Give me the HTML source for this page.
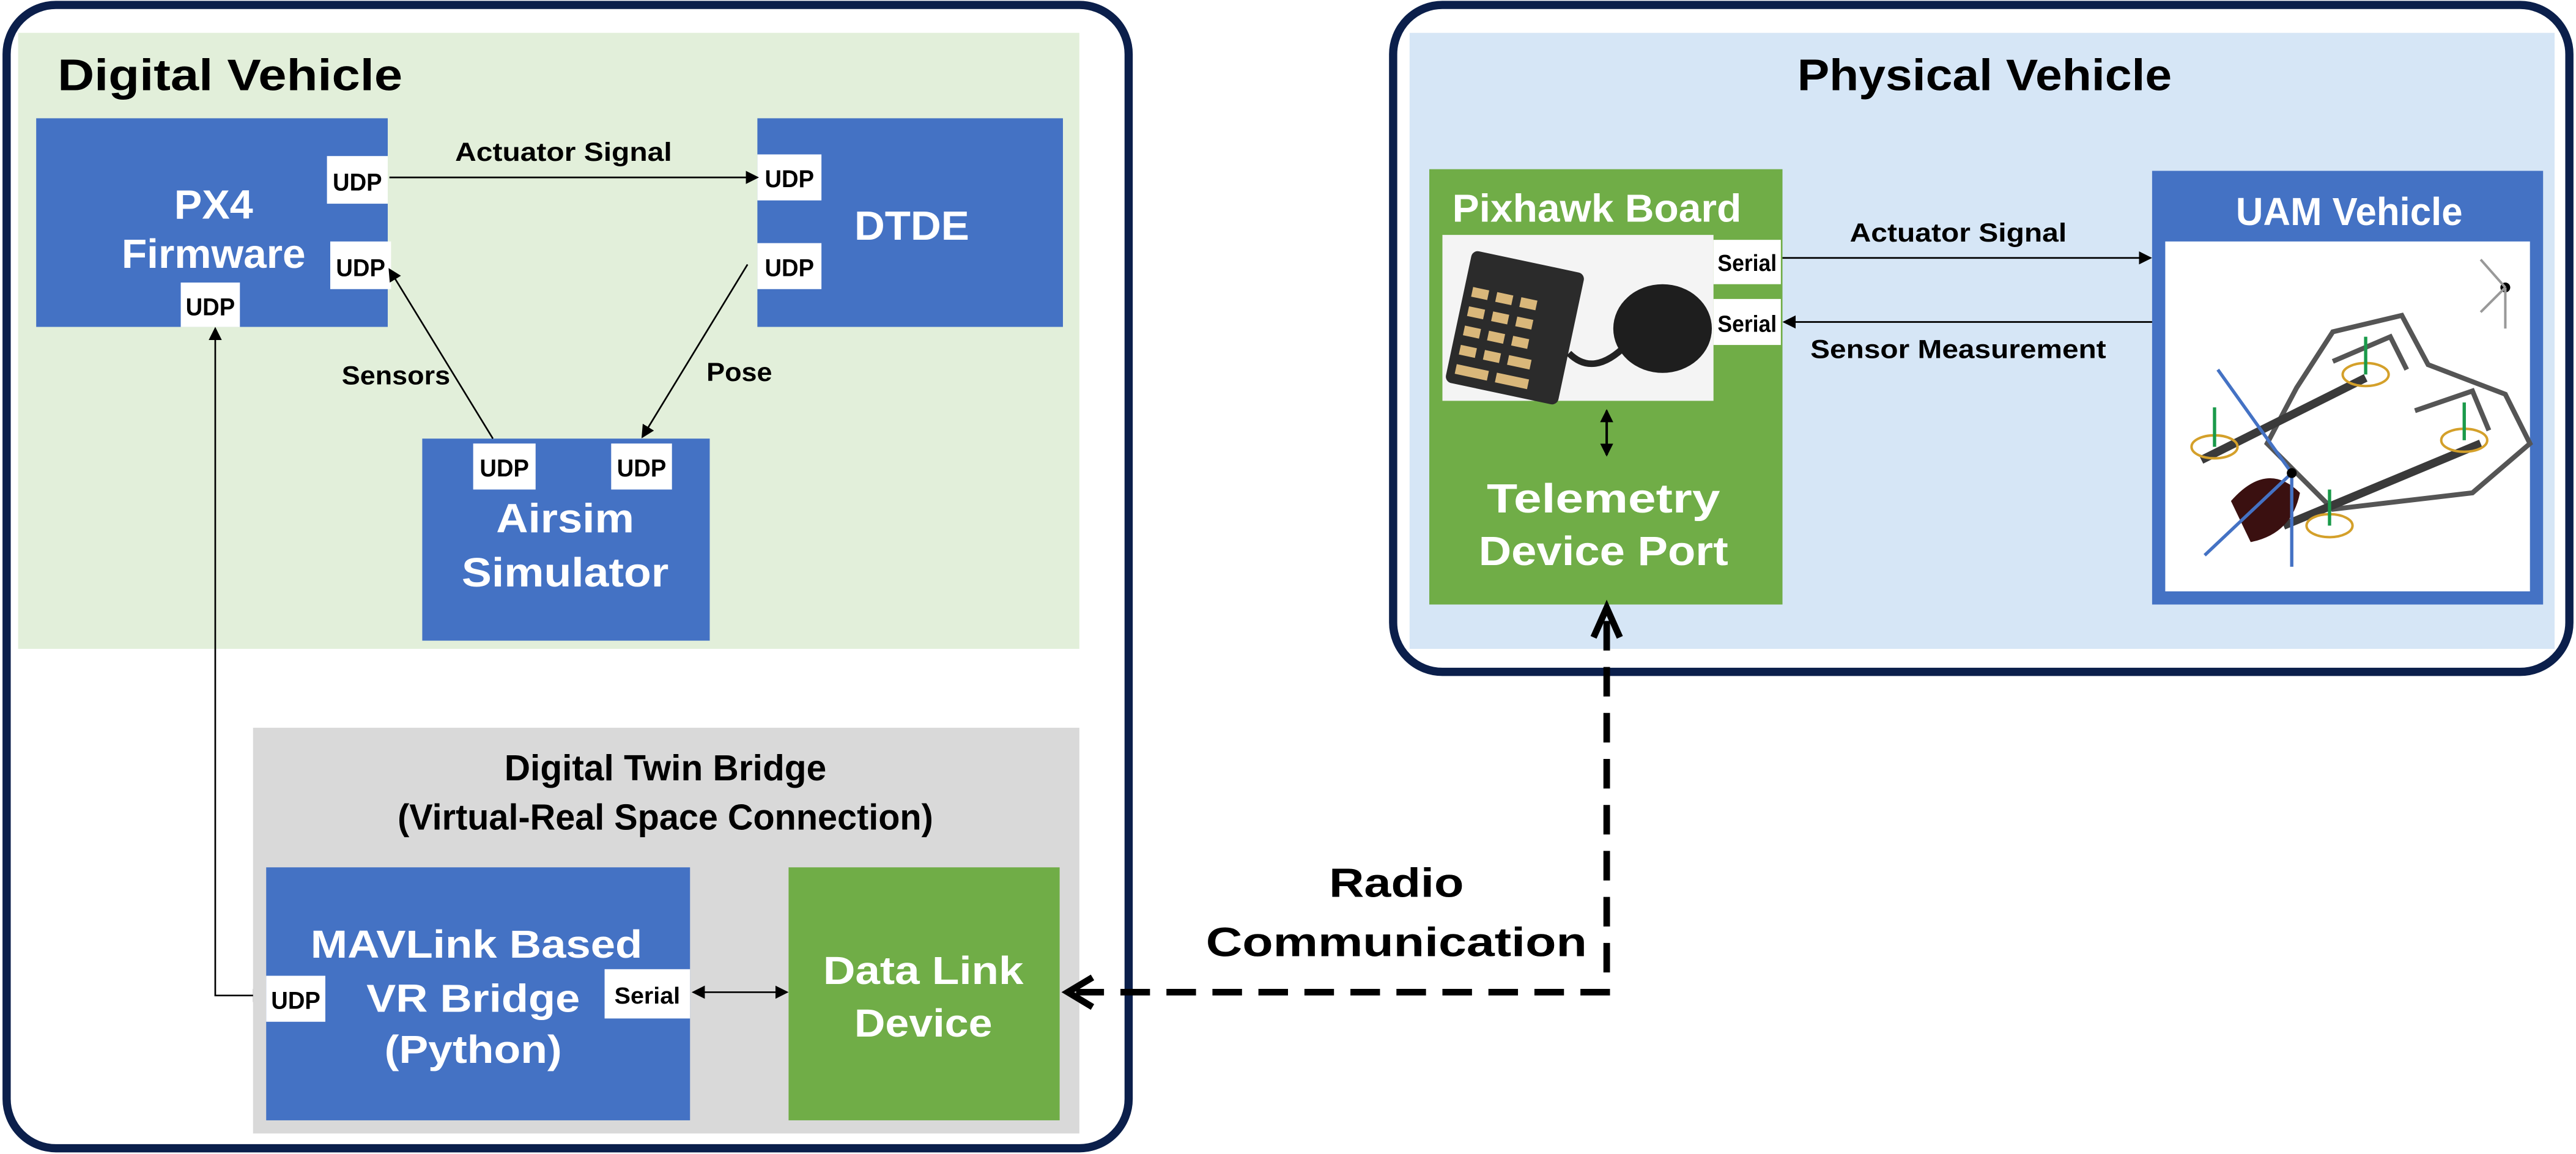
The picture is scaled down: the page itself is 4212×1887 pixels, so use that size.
<!DOCTYPE html>
<html><head><meta charset="utf-8"><style>
html,body{margin:0;padding:0;background:#fff;}
svg{display:block;}
text{font-family:"Liberation Sans",sans-serif;font-weight:bold;}
</style></head><body>
<svg width="4212" height="1887" viewBox="0 0 1568 702.5" xmlns="http://www.w3.org/2000/svg">
<defs>
<marker id="a" markerWidth="8" markerHeight="8" refX="7" refY="4" orient="auto" markerUnits="userSpaceOnUse"><path d="M0,0 L8,4 L0,8 z" fill="#000"/></marker>
<marker id="as" markerWidth="8" markerHeight="8" refX="1" refY="4" orient="auto" markerUnits="userSpaceOnUse"><path d="M8,0 L0,4 L8,8 z" fill="#000"/></marker>
</defs>
<!-- Left outer -->
<rect x="4" y="3" width="683" height="696" rx="30" fill="#fff" stroke="#0b1f4b" stroke-width="5"/>
<rect x="11" y="20" width="646" height="375" fill="#e2efda"/>
<text x="35" y="55" font-size="27" fill="#000" textLength="210" lengthAdjust="spacingAndGlyphs">Digital Vehicle</text>
<!-- PX4 -->
<rect x="22" y="72" width="214" height="127" fill="#4472c4"/>
<text x="130" y="133" font-size="25" fill="#fff" text-anchor="middle" textLength="48" lengthAdjust="spacingAndGlyphs">PX4</text>
<text x="130" y="163" font-size="25" fill="#fff" text-anchor="middle" textLength="112" lengthAdjust="spacingAndGlyphs">Firmware</text>
<rect x="199" y="95" width="37" height="29" fill="#fff"/><text x="217.5" y="116" font-size="15" text-anchor="middle" textLength="30" lengthAdjust="spacingAndGlyphs">UDP</text>
<rect x="201" y="147" width="37" height="29" fill="#fff"/><text x="219.5" y="168" font-size="15" text-anchor="middle" textLength="30" lengthAdjust="spacingAndGlyphs">UDP</text>
<rect x="110" y="172" width="36" height="27" fill="#fff"/><text x="128" y="192" font-size="15" text-anchor="middle" textLength="30" lengthAdjust="spacingAndGlyphs">UDP</text>
<!-- DTDE -->
<rect x="461" y="72" width="186" height="127" fill="#4472c4"/>
<text x="555" y="146" font-size="25" fill="#fff" text-anchor="middle" textLength="70" lengthAdjust="spacingAndGlyphs">DTDE</text>
<rect x="461" y="94" width="39" height="28" fill="#fff"/><text x="480.5" y="114" font-size="15" text-anchor="middle" textLength="30" lengthAdjust="spacingAndGlyphs">UDP</text>
<rect x="461" y="148" width="39" height="28" fill="#fff"/><text x="480.5" y="168" font-size="15" text-anchor="middle" textLength="30" lengthAdjust="spacingAndGlyphs">UDP</text>
<line x1="237" y1="108" x2="461" y2="108" stroke="#000" stroke-width="1" marker-end="url(#a)"/>
<text x="343" y="98" font-size="16" text-anchor="middle" textLength="132" lengthAdjust="spacingAndGlyphs">Actuator Signal</text>
<!-- Airsim -->
<rect x="257" y="267" width="175" height="123" fill="#4472c4"/>
<rect x="288" y="270" width="38" height="28" fill="#fff"/><text x="307" y="290" font-size="15" text-anchor="middle" textLength="30" lengthAdjust="spacingAndGlyphs">UDP</text>
<rect x="372" y="270" width="37" height="28" fill="#fff"/><text x="390.5" y="290" font-size="15" text-anchor="middle" textLength="30" lengthAdjust="spacingAndGlyphs">UDP</text>
<text x="344" y="324" font-size="25" fill="#fff" text-anchor="middle" textLength="84" lengthAdjust="spacingAndGlyphs">Airsim</text>
<text x="344" y="357" font-size="25" fill="#fff" text-anchor="middle" textLength="126" lengthAdjust="spacingAndGlyphs">Simulator</text>
<line x1="300" y1="267" x2="237" y2="164" stroke="#000" stroke-width="1" marker-end="url(#a)"/>
<text x="241" y="234" font-size="16" text-anchor="middle" textLength="66" lengthAdjust="spacingAndGlyphs">Sensors</text>
<line x1="455" y1="161" x2="391" y2="266" stroke="#000" stroke-width="1" marker-end="url(#a)"/>
<text x="450" y="232" font-size="16" text-anchor="middle" textLength="40" lengthAdjust="spacingAndGlyphs">Pose</text>
<!-- vertical PX4 to bridge -->
<polyline points="131,200 131,606 161,606" fill="none" stroke="#000" stroke-width="1" marker-start="url(#as)" marker-end="url(#a)"/>
<!-- Bridge -->
<rect x="154" y="443" width="503" height="247" fill="#d9d9d9"/>
<text x="405" y="475" font-size="22" text-anchor="middle" textLength="196" lengthAdjust="spacingAndGlyphs">Digital Twin Bridge</text>
<text x="405" y="505" font-size="22" text-anchor="middle" textLength="326" lengthAdjust="spacingAndGlyphs">(Virtual-Real Space Connection)</text>
<rect x="162" y="528" width="258" height="154" fill="#4472c4"/>
<text x="290" y="583" font-size="24" fill="#fff" text-anchor="middle" textLength="202" lengthAdjust="spacingAndGlyphs">MAVLink Based</text>
<text x="288" y="616" font-size="24" fill="#fff" text-anchor="middle" textLength="130" lengthAdjust="spacingAndGlyphs">VR Bridge</text>
<text x="288" y="647" font-size="24" fill="#fff" text-anchor="middle" textLength="108" lengthAdjust="spacingAndGlyphs">(Python)</text>
<rect x="162" y="594" width="36" height="28" fill="#fff"/><text x="180" y="614" font-size="15" text-anchor="middle" textLength="30" lengthAdjust="spacingAndGlyphs">UDP</text>
<rect x="368" y="590" width="52" height="30" fill="#fff"/><text x="394" y="611" font-size="14" text-anchor="middle" textLength="40" lengthAdjust="spacingAndGlyphs">Serial</text>
<rect x="480" y="528" width="165" height="154" fill="#70ad47"/>
<text x="562" y="599" font-size="24" fill="#fff" text-anchor="middle" textLength="122" lengthAdjust="spacingAndGlyphs">Data Link</text>
<text x="562" y="631" font-size="24" fill="#fff" text-anchor="middle" textLength="84" lengthAdjust="spacingAndGlyphs">Device</text>
<line x1="422" y1="604" x2="479" y2="604" stroke="#000" stroke-width="1" marker-start="url(#as)" marker-end="url(#a)"/>
<!-- Right outer -->
<rect x="848" y="3" width="716" height="406" rx="30" fill="#fff" stroke="#0b1f4b" stroke-width="5"/>
<rect x="858" y="20" width="697" height="375" fill="#d6e6f6"/>
<text x="1208" y="55" font-size="27" text-anchor="middle" textLength="228" lengthAdjust="spacingAndGlyphs">Physical Vehicle</text>
<!-- Pixhawk -->
<rect x="870" y="103" width="215" height="265" fill="#70ad47"/>
<text x="972" y="135" font-size="24" fill="#fff" text-anchor="middle" textLength="176" lengthAdjust="spacingAndGlyphs">Pixhawk Board</text>
<rect x="878" y="143" width="165" height="101" fill="#f4f4f4"/>
<g transform="rotate(12 920 195)"><rect x="888" y="158" width="70" height="82" rx="4" fill="#2b2b2b"/>
<g fill="#d9b77a"><rect x="893" y="180" width="10" height="6"/><rect x="908" y="180" width="10" height="6"/><rect x="923" y="180" width="10" height="6"/><rect x="893" y="192" width="10" height="6"/><rect x="908" y="192" width="10" height="6"/><rect x="923" y="192" width="10" height="6"/><rect x="893" y="204" width="10" height="6"/><rect x="908" y="204" width="10" height="6"/><rect x="923" y="204" width="10" height="6"/><rect x="893" y="216" width="10" height="6"/><rect x="908" y="216" width="10" height="6"/><rect x="923" y="216" width="14" height="6"/><rect x="893" y="228" width="20" height="6"/><rect x="918" y="228" width="20" height="6"/></g></g>
<path d="M955,215 Q970,230 990,210" stroke="#222" stroke-width="4" fill="none"/>
<ellipse cx="1012" cy="200" rx="30" ry="27" fill="#1e1e1e"/>
<rect x="1043" y="146" width="41" height="27" fill="#fff"/><text x="1063.5" y="165" font-size="14" text-anchor="middle" textLength="36" lengthAdjust="spacingAndGlyphs">Serial</text>
<rect x="1043" y="182" width="41" height="28" fill="#fff"/><text x="1063.5" y="202" font-size="14" text-anchor="middle" textLength="36" lengthAdjust="spacingAndGlyphs">Serial</text>
<line x1="978" y1="250" x2="978" y2="277" stroke="#000" stroke-width="1.5" marker-start="url(#as)" marker-end="url(#a)"/>
<text x="976" y="312" font-size="25" fill="#fff" text-anchor="middle" textLength="142" lengthAdjust="spacingAndGlyphs">Telemetry</text>
<text x="976" y="344" font-size="25" fill="#fff" text-anchor="middle" textLength="152" lengthAdjust="spacingAndGlyphs">Device Port</text>
<!-- UAM -->
<rect x="1310" y="104" width="238" height="264" fill="#4472c4"/>
<text x="1430" y="137" font-size="24" fill="#fff" text-anchor="middle" textLength="138" lengthAdjust="spacingAndGlyphs">UAM Vehicle</text>
<rect x="1318" y="147" width="222" height="213" fill="#fff"/>
<g fill="none" stroke="#555" stroke-width="3">
<path d="M1398,236 L1420,202 L1462,192 L1478,222 L1525,240 L1540,270 L1505,300 L1420,310 L1380,270 Z"/>
<path d="M1420,220 L1455,205 L1465,225 M1470,250 L1505,238 L1515,262"/>
</g>
<g stroke="#3a3a3a" stroke-width="5"><line x1="1340" y1="280" x2="1440" y2="230"/><line x1="1390" y1="320" x2="1510" y2="270"/></g>
<path d="M1358,305 Q1380,280 1400,300 Q1395,325 1370,330 Z" fill="#3a1010"/>
<g stroke="#4472c4" stroke-width="2"><line x1="1395" y1="288" x2="1350" y2="225"/><line x1="1395" y1="288" x2="1342" y2="338"/><line x1="1395" y1="288" x2="1395" y2="345"/></g>
<circle cx="1395" cy="288" r="3" fill="#000"/><circle cx="1525" cy="175" r="3" fill="#000"/>
<g stroke="#999" stroke-width="1.5"><line x1="1525" y1="175" x2="1510" y2="158"/><line x1="1525" y1="175" x2="1510" y2="190"/><line x1="1525" y1="175" x2="1525" y2="200"/></g>
<g fill="none" stroke="#d4a02a" stroke-width="1.5"><ellipse cx="1348" cy="272" rx="14" ry="7"/><ellipse cx="1440" cy="228" rx="14" ry="7"/><ellipse cx="1500" cy="268" rx="14" ry="7"/><ellipse cx="1418" cy="320" rx="14" ry="7"/></g>
<g stroke="#1a9a4a" stroke-width="2"><line x1="1348" y1="272" x2="1348" y2="248"/><line x1="1440" y1="228" x2="1440" y2="205"/><line x1="1500" y1="268" x2="1500" y2="245"/><line x1="1418" y1="320" x2="1418" y2="298"/></g>
<line x1="1085" y1="157" x2="1309" y2="157" stroke="#000" stroke-width="1" marker-end="url(#a)"/>
<text x="1192" y="147" font-size="16" text-anchor="middle" textLength="132" lengthAdjust="spacingAndGlyphs">Actuator Signal</text>
<line x1="1310" y1="196" x2="1086" y2="196" stroke="#000" stroke-width="1" marker-end="url(#a)"/>
<text x="1192" y="218" font-size="16" text-anchor="middle" textLength="180" lengthAdjust="spacingAndGlyphs">Sensor Measurement</text>
<!-- Radio -->
<polyline points="978,378 978,604 655,604" fill="none" stroke="#000" stroke-width="4" stroke-dasharray="18,10"/>
<path d="M970,388 L978,370 L986,388" fill="none" stroke="#000" stroke-width="4"/>
<path d="M665,595 L650,604 L665,613" fill="none" stroke="#000" stroke-width="4"/>
<text x="850" y="546" font-size="25" text-anchor="middle" textLength="82" lengthAdjust="spacingAndGlyphs">Radio</text>
<text x="850" y="582" font-size="25" text-anchor="middle" textLength="232" lengthAdjust="spacingAndGlyphs">Communication</text>
</svg>
</body></html>
